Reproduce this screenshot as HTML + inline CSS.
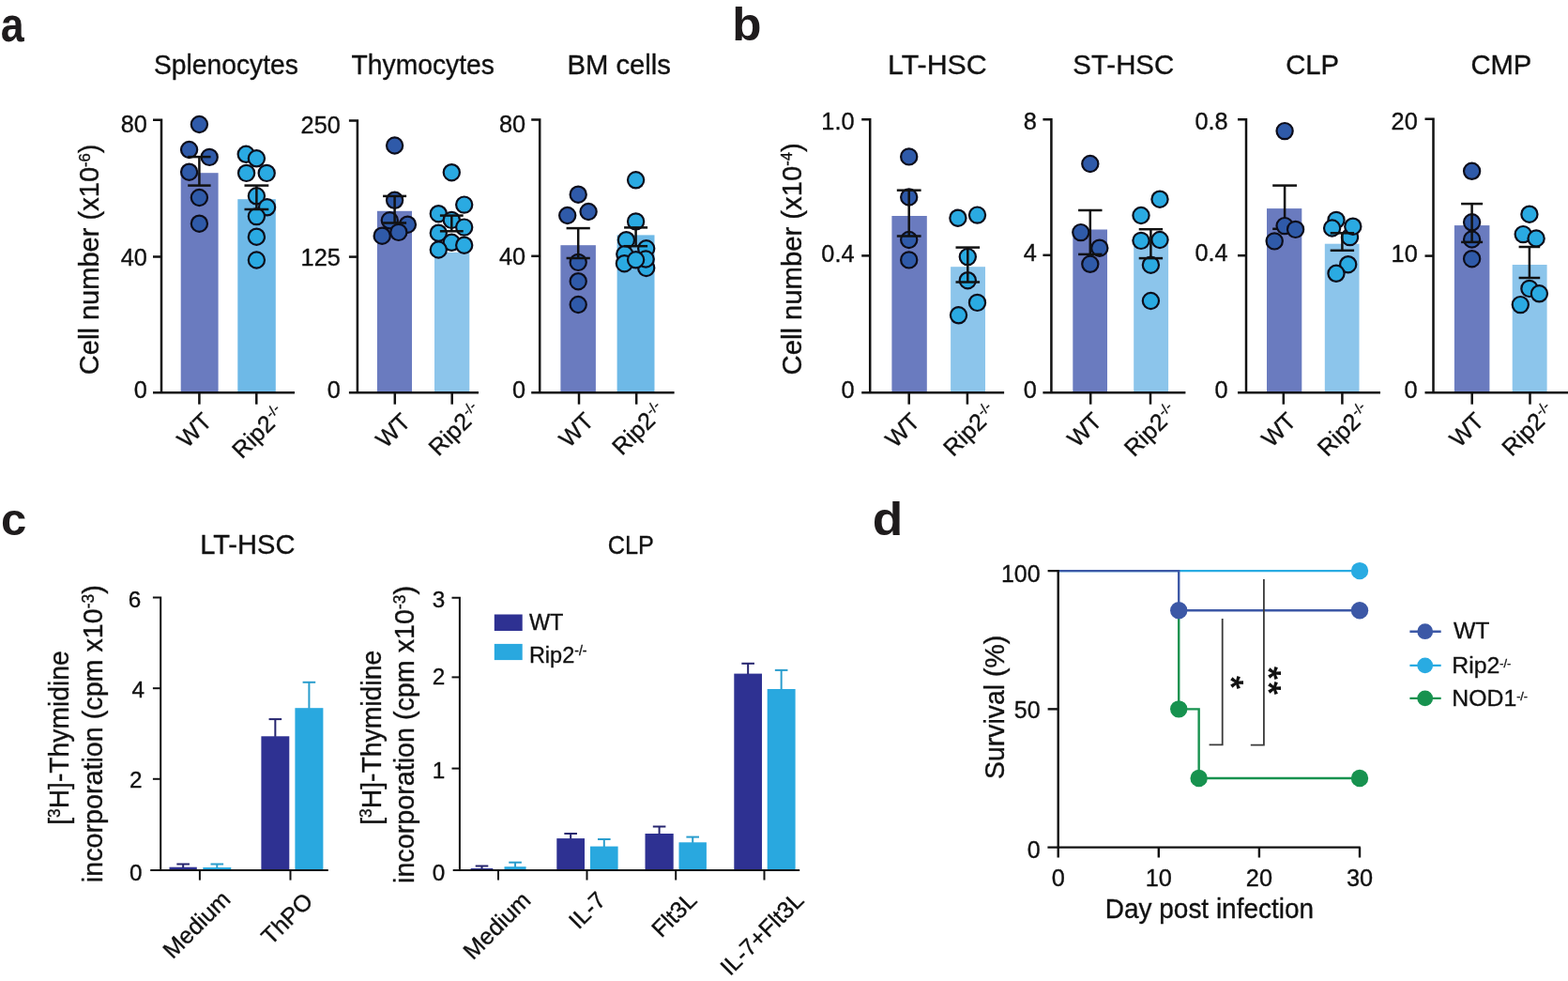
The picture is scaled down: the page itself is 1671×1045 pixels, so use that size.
<!DOCTYPE html>
<html><head><meta charset="utf-8"><title>Figure</title>
<style>html,body{margin:0;padding:0;background:#fff;}svg{display:block;}</style>
</head><body>
<svg width="1671" height="1045" viewBox="0 0 1671 1045" font-family='"Liberation Sans", Arial, Helvetica, sans-serif' fill="#111">
<rect width="1671" height="1045" fill="#fff"/>
<text font-size="49" text-anchor="start" font-weight="bold" transform="translate(0.63 43.6) scale(0.9150 1.0460)" fill="#1e1b1c">a</text>
<text font-size="49" text-anchor="start" font-weight="bold" transform="translate(780.3 43.4) scale(1.0440 1.0140)" fill="#1e1b1c">b</text>
<text font-size="49" text-anchor="start" font-weight="bold" transform="translate(1 570.4)" fill="#1e1b1c">c</text>
<text font-size="49" text-anchor="start" font-weight="bold" transform="translate(929.7 569.8) scale(1.0880 1.0310)" fill="#1e1b1c">d</text>
<text font-size="29" text-anchor="start" stroke="#111" stroke-width="0.35" transform="translate(164.03 78.6) scale(0.9744 1.0000)">Splenocytes</text>
<text font-size="29" text-anchor="start" stroke="#111" stroke-width="0.35" transform="translate(374.59 78.7) scale(0.9744 1.0000)">Thymocytes</text>
<text font-size="29" text-anchor="start" stroke="#111" stroke-width="0.35" transform="translate(604.38 78.6) scale(1.0094 1.0000)">BM cells</text>
<text font-size="28.9" text-anchor="start" stroke="#111" stroke-width="0.35" transform="translate(105.4 399.21) rotate(-90) scale(1.0062 1.0000)">Cell number (x10<tspan font-size="16.5" dy="-9.9">-6</tspan><tspan dy="9.9">)</tspan></text>
<rect x="192.7" y="184.2" width="39.9" height="234" fill="#6a7bbf"/>
<rect x="253.3" y="212.2" width="40.5" height="206" fill="#6eb9e7"/>
<circle cx="212.4" cy="132.5" r="8.6" fill="#2f5aa9" stroke="#0d0d1a" stroke-width="2.2"/>
<circle cx="201.6" cy="159.5" r="8.6" fill="#2f5aa9" stroke="#0d0d1a" stroke-width="2.2"/>
<circle cx="223.2" cy="167.4" r="8.6" fill="#2f5aa9" stroke="#0d0d1a" stroke-width="2.2"/>
<circle cx="201.6" cy="183.2" r="8.6" fill="#2f5aa9" stroke="#0d0d1a" stroke-width="2.2"/>
<circle cx="212.4" cy="210.5" r="8.6" fill="#2f5aa9" stroke="#0d0d1a" stroke-width="2.2"/>
<circle cx="212.4" cy="238.2" r="8.6" fill="#2f5aa9" stroke="#0d0d1a" stroke-width="2.2"/>
<circle cx="262.2" cy="164.3" r="8.6" fill="#2aaae2" stroke="#0d0d1a" stroke-width="2.2"/>
<circle cx="273.4" cy="168.8" r="8.6" fill="#2aaae2" stroke="#0d0d1a" stroke-width="2.2"/>
<circle cx="262.6" cy="184.4" r="8.6" fill="#2aaae2" stroke="#0d0d1a" stroke-width="2.2"/>
<circle cx="284.2" cy="184.4" r="8.6" fill="#2aaae2" stroke="#0d0d1a" stroke-width="2.2"/>
<circle cx="273.4" cy="208.8" r="8.6" fill="#2aaae2" stroke="#0d0d1a" stroke-width="2.2"/>
<circle cx="284.6" cy="220.8" r="8.6" fill="#2aaae2" stroke="#0d0d1a" stroke-width="2.2"/>
<circle cx="273.4" cy="230.6" r="8.6" fill="#2aaae2" stroke="#0d0d1a" stroke-width="2.2"/>
<circle cx="273.4" cy="252.2" r="8.6" fill="#2aaae2" stroke="#0d0d1a" stroke-width="2.2"/>
<circle cx="273.4" cy="277" r="8.6" fill="#2aaae2" stroke="#0d0d1a" stroke-width="2.2"/>
<line x1="212.4" y1="167.1" x2="212.4" y2="197.6" stroke="#111" stroke-width="2.5" stroke-linecap="butt"/>
<line x1="200.2" y1="167.1" x2="224.6" y2="167.1" stroke="#111" stroke-width="2.5" stroke-linecap="butt"/>
<line x1="200.2" y1="197.6" x2="224.6" y2="197.6" stroke="#111" stroke-width="2.5" stroke-linecap="butt"/>
<line x1="273.4" y1="197.6" x2="273.4" y2="223" stroke="#111" stroke-width="2.5" stroke-linecap="butt"/>
<line x1="260.5" y1="197.6" x2="286.3" y2="197.6" stroke="#111" stroke-width="2.5" stroke-linecap="butt"/>
<line x1="260.5" y1="223" x2="286.3" y2="223" stroke="#111" stroke-width="2.5" stroke-linecap="butt"/>
<path d="M163 127.8 H172 V418.2" fill="none" stroke="#111" stroke-width="2.5" stroke-linejoin="miter"/>
<line x1="163" y1="273.5" x2="172" y2="273.5" stroke="#111" stroke-width="2.5" stroke-linecap="butt"/>
<line x1="163" y1="418.2" x2="314" y2="418.2" stroke="#111" stroke-width="2.5" stroke-linecap="butt"/>
<line x1="212.4" y1="418.2" x2="212.4" y2="430.7" stroke="#111" stroke-width="2.5" stroke-linecap="butt"/>
<line x1="273.3" y1="418.2" x2="273.3" y2="430.7" stroke="#111" stroke-width="2.5" stroke-linecap="butt"/>
<text font-size="25.3" text-anchor="end" stroke="#111" stroke-width="0.35" transform="translate(156.8 141.46)">80</text>
<text font-size="25.3" text-anchor="end" stroke="#111" stroke-width="0.35" transform="translate(156.8 283.16)">40</text>
<text font-size="25.3" text-anchor="end" stroke="#111" stroke-width="0.35" transform="translate(156.8 424.36)">0</text>
<text font-size="25.3" text-anchor="end" stroke="#111" stroke-width="0.35" transform="translate(227.1 450.4) rotate(-45)">WT</text>
<text font-size="25.3" text-anchor="end" stroke="#111" stroke-width="0.35" transform="translate(305.1 442.3) rotate(-45)">Rip2<tspan dx="0.8" font-size="15" dy="-8.5">-/-</tspan></text>
<rect x="401.9" y="224.8" width="37.1" height="193.4" fill="#6a7bbf"/>
<rect x="463" y="268.9" width="37.3" height="149.3" fill="#8cc5eb"/>
<circle cx="420.6" cy="155" r="8.6" fill="#2f5aa9" stroke="#0d0d1a" stroke-width="2.2"/>
<circle cx="420.6" cy="213.3" r="8.6" fill="#2f5aa9" stroke="#0d0d1a" stroke-width="2.2"/>
<circle cx="415.3" cy="234.8" r="8.6" fill="#2f5aa9" stroke="#0d0d1a" stroke-width="2.2"/>
<circle cx="434.4" cy="239.2" r="8.6" fill="#2f5aa9" stroke="#0d0d1a" stroke-width="2.2"/>
<circle cx="407.2" cy="251.2" r="8.6" fill="#2f5aa9" stroke="#0d0d1a" stroke-width="2.2"/>
<circle cx="424.8" cy="247.4" r="8.6" fill="#2f5aa9" stroke="#0d0d1a" stroke-width="2.2"/>
<circle cx="481.3" cy="183.7" r="8.6" fill="#2aaae2" stroke="#0d0d1a" stroke-width="2.2"/>
<circle cx="494.7" cy="218.1" r="8.6" fill="#2aaae2" stroke="#0d0d1a" stroke-width="2.2"/>
<circle cx="467.3" cy="227.7" r="8.6" fill="#2aaae2" stroke="#0d0d1a" stroke-width="2.2"/>
<circle cx="481.3" cy="234.4" r="8.6" fill="#2aaae2" stroke="#0d0d1a" stroke-width="2.2"/>
<circle cx="494.7" cy="242.1" r="8.6" fill="#2aaae2" stroke="#0d0d1a" stroke-width="2.2"/>
<circle cx="467.3" cy="248.2" r="8.6" fill="#2aaae2" stroke="#0d0d1a" stroke-width="2.2"/>
<circle cx="481.3" cy="258.3" r="8.6" fill="#2aaae2" stroke="#0d0d1a" stroke-width="2.2"/>
<circle cx="494.7" cy="261.2" r="8.6" fill="#2aaae2" stroke="#0d0d1a" stroke-width="2.2"/>
<circle cx="467.3" cy="266" r="8.6" fill="#2aaae2" stroke="#0d0d1a" stroke-width="2.2"/>
<line x1="420.6" y1="208.9" x2="420.6" y2="237.5" stroke="#111" stroke-width="2.5" stroke-linecap="butt"/>
<line x1="408.1" y1="208.9" x2="433.1" y2="208.9" stroke="#111" stroke-width="2.5" stroke-linecap="butt"/>
<line x1="408.1" y1="237.5" x2="433.1" y2="237.5" stroke="#111" stroke-width="2.5" stroke-linecap="butt"/>
<line x1="481.3" y1="229.6" x2="481.3" y2="246.3" stroke="#111" stroke-width="2.5" stroke-linecap="butt"/>
<line x1="468.9" y1="229.6" x2="493.7" y2="229.6" stroke="#111" stroke-width="2.5" stroke-linecap="butt"/>
<line x1="468.9" y1="246.3" x2="493.7" y2="246.3" stroke="#111" stroke-width="2.5" stroke-linecap="butt"/>
<path d="M371.9 128.6 H380.9 V418.2" fill="none" stroke="#111" stroke-width="2.5" stroke-linejoin="miter"/>
<line x1="371.9" y1="273.6" x2="380.9" y2="273.6" stroke="#111" stroke-width="2.5" stroke-linecap="butt"/>
<line x1="371.9" y1="418.2" x2="510" y2="418.2" stroke="#111" stroke-width="2.5" stroke-linecap="butt"/>
<line x1="420.8" y1="418.2" x2="420.8" y2="430.7" stroke="#111" stroke-width="2.5" stroke-linecap="butt"/>
<line x1="481.7" y1="418.2" x2="481.7" y2="430.7" stroke="#111" stroke-width="2.5" stroke-linecap="butt"/>
<text font-size="25.3" text-anchor="end" stroke="#111" stroke-width="0.35" transform="translate(362.8 142.26)">250</text>
<text font-size="25.3" text-anchor="end" stroke="#111" stroke-width="0.35" transform="translate(362.8 283.26)">125</text>
<text font-size="25.3" text-anchor="end" stroke="#111" stroke-width="0.35" transform="translate(362.8 424.36)">0</text>
<text font-size="25.3" text-anchor="end" stroke="#111" stroke-width="0.35" transform="translate(438.9 450.8) rotate(-45)">WT</text>
<text font-size="25.3" text-anchor="end" stroke="#111" stroke-width="0.35" transform="translate(514.6 439.7) rotate(-45)">Rip2<tspan dx="0.8" font-size="15" dy="-8.5">-/-</tspan></text>
<rect x="597.4" y="261.2" width="37.5" height="157" fill="#6a7bbf"/>
<rect x="657.6" y="250.4" width="39.9" height="167.8" fill="#6eb9e7"/>
<circle cx="616.2" cy="207.2" r="8.6" fill="#2f5aa9" stroke="#0d0d1a" stroke-width="2.2"/>
<circle cx="604.7" cy="229.5" r="8.6" fill="#2f5aa9" stroke="#0d0d1a" stroke-width="2.2"/>
<circle cx="627.1" cy="225.5" r="8.6" fill="#2f5aa9" stroke="#0d0d1a" stroke-width="2.2"/>
<circle cx="616.2" cy="279.4" r="8.6" fill="#2f5aa9" stroke="#0d0d1a" stroke-width="2.2"/>
<circle cx="616.2" cy="299.7" r="8.6" fill="#2f5aa9" stroke="#0d0d1a" stroke-width="2.2"/>
<circle cx="616.2" cy="324.5" r="8.6" fill="#2f5aa9" stroke="#0d0d1a" stroke-width="2.2"/>
<circle cx="677.6" cy="191.8" r="8.6" fill="#2aaae2" stroke="#0d0d1a" stroke-width="2.2"/>
<circle cx="677.6" cy="235.9" r="8.6" fill="#2aaae2" stroke="#0d0d1a" stroke-width="2.2"/>
<circle cx="667.4" cy="255.7" r="8.6" fill="#2aaae2" stroke="#0d0d1a" stroke-width="2.2"/>
<circle cx="688.7" cy="264.8" r="8.6" fill="#2aaae2" stroke="#0d0d1a" stroke-width="2.2"/>
<circle cx="665.8" cy="270.8" r="8.6" fill="#2aaae2" stroke="#0d0d1a" stroke-width="2.2"/>
<circle cx="688.7" cy="285.5" r="8.6" fill="#2aaae2" stroke="#0d0d1a" stroke-width="2.2"/>
<circle cx="665.4" cy="280.7" r="8.6" fill="#2aaae2" stroke="#0d0d1a" stroke-width="2.2"/>
<circle cx="688.2" cy="276" r="8.6" fill="#2aaae2" stroke="#0d0d1a" stroke-width="2.2"/>
<circle cx="677.6" cy="276.8" r="8.6" fill="#2aaae2" stroke="#0d0d1a" stroke-width="2.2"/>
<line x1="616.2" y1="243.1" x2="616.2" y2="275" stroke="#111" stroke-width="2.5" stroke-linecap="butt"/>
<line x1="603.6" y1="243.1" x2="628.8" y2="243.1" stroke="#111" stroke-width="2.5" stroke-linecap="butt"/>
<line x1="603.6" y1="275" x2="628.8" y2="275" stroke="#111" stroke-width="2.5" stroke-linecap="butt"/>
<line x1="677.6" y1="242.4" x2="677.6" y2="262.2" stroke="#111" stroke-width="2.5" stroke-linecap="butt"/>
<line x1="665.1" y1="242.4" x2="690.1" y2="242.4" stroke="#111" stroke-width="2.5" stroke-linecap="butt"/>
<line x1="665.1" y1="262.2" x2="690.1" y2="262.2" stroke="#111" stroke-width="2.5" stroke-linecap="butt"/>
<path d="M566.2 127.6 H575.2 V418.2" fill="none" stroke="#111" stroke-width="2.5" stroke-linejoin="miter"/>
<line x1="566.2" y1="272.8" x2="575.2" y2="272.8" stroke="#111" stroke-width="2.5" stroke-linecap="butt"/>
<line x1="566.2" y1="418.2" x2="718.6" y2="418.2" stroke="#111" stroke-width="2.5" stroke-linecap="butt"/>
<line x1="617" y1="418.2" x2="617" y2="430.7" stroke="#111" stroke-width="2.5" stroke-linecap="butt"/>
<line x1="678.2" y1="418.2" x2="678.2" y2="430.7" stroke="#111" stroke-width="2.5" stroke-linecap="butt"/>
<text font-size="25.3" text-anchor="end" stroke="#111" stroke-width="0.35" transform="translate(560.1 141.26)">80</text>
<text font-size="25.3" text-anchor="end" stroke="#111" stroke-width="0.35" transform="translate(560.1 282.46)">40</text>
<text font-size="25.3" text-anchor="end" stroke="#111" stroke-width="0.35" transform="translate(560.1 424.36)">0</text>
<text font-size="25.3" text-anchor="end" stroke="#111" stroke-width="0.35" transform="translate(634.1 450.1) rotate(-45)">WT</text>
<text font-size="25.3" text-anchor="end" stroke="#111" stroke-width="0.35" transform="translate(710.2 438.9) rotate(-45)">Rip2<tspan dx="0.8" font-size="15" dy="-8.5">-/-</tspan></text>
<text font-size="29" text-anchor="start" stroke="#111" stroke-width="0.35" transform="translate(946.09 79) scale(1.0465 1.0000)">LT-HSC</text>
<text font-size="29" text-anchor="start" stroke="#111" stroke-width="0.35" transform="translate(1143.37 78.5) scale(1.0146 1.0000)">ST-HSC</text>
<text font-size="29" text-anchor="start" stroke="#111" stroke-width="0.35" transform="translate(1370.17 78.5) scale(1.0099 1.0000)">CLP</text>
<text font-size="29" text-anchor="start" stroke="#111" stroke-width="0.35" transform="translate(1567.39 78.5) scale(1.0082 1.0000)">CMP</text>
<text font-size="28.9" text-anchor="start" stroke="#111" stroke-width="0.35" transform="translate(853.5 399.42) rotate(-90) scale(1.0124 1.0000)">Cell number (x10<tspan font-size="16.5" dy="-9.9">-4</tspan><tspan dy="9.9">)</tspan></text>
<rect x="950.4" y="230" width="37.4" height="188.2" fill="#6a7bbf"/>
<rect x="1013.1" y="284.2" width="36.9" height="134" fill="#8cc5eb"/>
<circle cx="968.7" cy="166.9" r="8.6" fill="#2f5aa9" stroke="#0d0d1a" stroke-width="2.2"/>
<circle cx="968.7" cy="210" r="8.6" fill="#2f5aa9" stroke="#0d0d1a" stroke-width="2.2"/>
<circle cx="968.7" cy="255.5" r="8.6" fill="#2f5aa9" stroke="#0d0d1a" stroke-width="2.2"/>
<circle cx="968.7" cy="276.9" r="8.6" fill="#2f5aa9" stroke="#0d0d1a" stroke-width="2.2"/>
<circle cx="1020.9" cy="232.2" r="8.6" fill="#2aaae2" stroke="#0d0d1a" stroke-width="2.2"/>
<circle cx="1041.5" cy="229.1" r="8.6" fill="#2aaae2" stroke="#0d0d1a" stroke-width="2.2"/>
<circle cx="1031.3" cy="273.6" r="8.6" fill="#2aaae2" stroke="#0d0d1a" stroke-width="2.2"/>
<circle cx="1031.3" cy="298.7" r="8.6" fill="#2aaae2" stroke="#0d0d1a" stroke-width="2.2"/>
<circle cx="1041.5" cy="322.4" r="8.6" fill="#2aaae2" stroke="#0d0d1a" stroke-width="2.2"/>
<circle cx="1021.5" cy="335.8" r="8.6" fill="#2aaae2" stroke="#0d0d1a" stroke-width="2.2"/>
<line x1="968.7" y1="202.7" x2="968.7" y2="251.5" stroke="#111" stroke-width="2.5" stroke-linecap="butt"/>
<line x1="955.8" y1="202.7" x2="981.6" y2="202.7" stroke="#111" stroke-width="2.5" stroke-linecap="butt"/>
<line x1="955.8" y1="251.5" x2="981.6" y2="251.5" stroke="#111" stroke-width="2.5" stroke-linecap="butt"/>
<line x1="1031.3" y1="263.6" x2="1031.3" y2="300.5" stroke="#111" stroke-width="2.5" stroke-linecap="butt"/>
<line x1="1018.5" y1="263.6" x2="1044.1" y2="263.6" stroke="#111" stroke-width="2.5" stroke-linecap="butt"/>
<line x1="1018.5" y1="300.5" x2="1044.1" y2="300.5" stroke="#111" stroke-width="2.5" stroke-linecap="butt"/>
<path d="M918.2 127.3 H927.2 V418.2" fill="none" stroke="#111" stroke-width="2.5" stroke-linejoin="miter"/>
<line x1="918.2" y1="272.4" x2="927.2" y2="272.4" stroke="#111" stroke-width="2.5" stroke-linecap="butt"/>
<line x1="918.2" y1="418.2" x2="1070.1" y2="418.2" stroke="#111" stroke-width="2.5" stroke-linecap="butt"/>
<line x1="968.7" y1="418.2" x2="968.7" y2="430.7" stroke="#111" stroke-width="2.5" stroke-linecap="butt"/>
<line x1="1030.9" y1="418.2" x2="1030.9" y2="430.7" stroke="#111" stroke-width="2.5" stroke-linecap="butt"/>
<text font-size="25.3" text-anchor="end" stroke="#111" stroke-width="0.35" transform="translate(910.5 138.26)">1.0</text>
<text font-size="25.3" text-anchor="end" stroke="#111" stroke-width="0.35" transform="translate(910.5 278.66)">0.4</text>
<text font-size="25.3" text-anchor="end" stroke="#111" stroke-width="0.35" transform="translate(910.5 423.96)">0</text>
<text font-size="25.3" text-anchor="end" stroke="#111" stroke-width="0.35" transform="translate(981.8 450.5) rotate(-45)">WT</text>
<text font-size="25.3" text-anchor="end" stroke="#111" stroke-width="0.35" transform="translate(1063.2 440.1) rotate(-45)">Rip2<tspan dx="0.8" font-size="15" dy="-8.5">-/-</tspan></text>
<rect x="1143.3" y="244.5" width="36.7" height="173.7" fill="#6a7bbf"/>
<rect x="1208.2" y="259.6" width="36.9" height="158.6" fill="#8cc5eb"/>
<circle cx="1161.8" cy="174.5" r="8.6" fill="#2f5aa9" stroke="#0d0d1a" stroke-width="2.2"/>
<circle cx="1151.8" cy="247.6" r="8.6" fill="#2f5aa9" stroke="#0d0d1a" stroke-width="2.2"/>
<circle cx="1171.8" cy="264.2" r="8.6" fill="#2f5aa9" stroke="#0d0d1a" stroke-width="2.2"/>
<circle cx="1161.8" cy="281.3" r="8.6" fill="#2f5aa9" stroke="#0d0d1a" stroke-width="2.2"/>
<circle cx="1236" cy="212.2" r="8.6" fill="#2aaae2" stroke="#0d0d1a" stroke-width="2.2"/>
<circle cx="1216" cy="229.5" r="8.6" fill="#2aaae2" stroke="#0d0d1a" stroke-width="2.2"/>
<circle cx="1216" cy="256.4" r="8.6" fill="#2aaae2" stroke="#0d0d1a" stroke-width="2.2"/>
<circle cx="1236" cy="255.5" r="8.6" fill="#2aaae2" stroke="#0d0d1a" stroke-width="2.2"/>
<circle cx="1226.4" cy="282.2" r="8.6" fill="#2aaae2" stroke="#0d0d1a" stroke-width="2.2"/>
<circle cx="1226.4" cy="320.5" r="8.6" fill="#2aaae2" stroke="#0d0d1a" stroke-width="2.2"/>
<line x1="1161.8" y1="224" x2="1161.8" y2="270.9" stroke="#111" stroke-width="2.5" stroke-linecap="butt"/>
<line x1="1149.1" y1="224" x2="1174.5" y2="224" stroke="#111" stroke-width="2.5" stroke-linecap="butt"/>
<line x1="1149.1" y1="270.9" x2="1174.5" y2="270.9" stroke="#111" stroke-width="2.5" stroke-linecap="butt"/>
<line x1="1226.4" y1="244.2" x2="1226.4" y2="275.1" stroke="#111" stroke-width="2.5" stroke-linecap="butt"/>
<line x1="1213.7" y1="244.2" x2="1239.1" y2="244.2" stroke="#111" stroke-width="2.5" stroke-linecap="butt"/>
<line x1="1213.7" y1="275.1" x2="1239.1" y2="275.1" stroke="#111" stroke-width="2.5" stroke-linecap="butt"/>
<path d="M1111.4 127.3 H1120.4 V418.2" fill="none" stroke="#111" stroke-width="2.5" stroke-linejoin="miter"/>
<line x1="1111.4" y1="271.8" x2="1120.4" y2="271.8" stroke="#111" stroke-width="2.5" stroke-linecap="butt"/>
<line x1="1111.4" y1="418.2" x2="1263.4" y2="418.2" stroke="#111" stroke-width="2.5" stroke-linecap="butt"/>
<line x1="1162.2" y1="418.2" x2="1162.2" y2="430.7" stroke="#111" stroke-width="2.5" stroke-linecap="butt"/>
<line x1="1226" y1="418.2" x2="1226" y2="430.7" stroke="#111" stroke-width="2.5" stroke-linecap="butt"/>
<text font-size="25.3" text-anchor="end" stroke="#111" stroke-width="0.35" transform="translate(1104.9 138.26)">8</text>
<text font-size="25.3" text-anchor="end" stroke="#111" stroke-width="0.35" transform="translate(1104.9 278.06)">4</text>
<text font-size="25.3" text-anchor="end" stroke="#111" stroke-width="0.35" transform="translate(1104.9 423.96)">0</text>
<text font-size="25.3" text-anchor="end" stroke="#111" stroke-width="0.35" transform="translate(1175.7 450) rotate(-45)">WT</text>
<text font-size="25.3" text-anchor="end" stroke="#111" stroke-width="0.35" transform="translate(1256 440.3) rotate(-45)">Rip2<tspan dx="0.8" font-size="15" dy="-8.5">-/-</tspan></text>
<rect x="1350" y="222.1" width="37.3" height="196.1" fill="#6a7bbf"/>
<rect x="1411.8" y="259.7" width="36.7" height="158.5" fill="#8cc5eb"/>
<line x1="1369.1" y1="197.6" x2="1369.1" y2="243.8" stroke="#111" stroke-width="2.5" stroke-linecap="butt"/>
<line x1="1356.2" y1="197.6" x2="1382" y2="197.6" stroke="#111" stroke-width="2.5" stroke-linecap="butt"/>
<line x1="1356.2" y1="243.8" x2="1382" y2="243.8" stroke="#111" stroke-width="2.5" stroke-linecap="butt"/>
<circle cx="1369.1" cy="139.6" r="8.6" fill="#2f5aa9" stroke="#0d0d1a" stroke-width="2.2"/>
<circle cx="1369.1" cy="240.6" r="8.6" fill="#2f5aa9" stroke="#0d0d1a" stroke-width="2.2"/>
<circle cx="1380.6" cy="244.4" r="8.6" fill="#2f5aa9" stroke="#0d0d1a" stroke-width="2.2"/>
<circle cx="1358.2" cy="256.9" r="8.6" fill="#2f5aa9" stroke="#0d0d1a" stroke-width="2.2"/>
<circle cx="1438.5" cy="252.6" r="8.6" fill="#2aaae2" stroke="#0d0d1a" stroke-width="2.2"/>
<circle cx="1424" cy="234.4" r="8.6" fill="#2aaae2" stroke="#0d0d1a" stroke-width="2.2"/>
<circle cx="1419.6" cy="243" r="8.6" fill="#2aaae2" stroke="#0d0d1a" stroke-width="2.2"/>
<circle cx="1441.8" cy="241.2" r="8.6" fill="#2aaae2" stroke="#0d0d1a" stroke-width="2.2"/>
<circle cx="1436.7" cy="281.7" r="8.6" fill="#2aaae2" stroke="#0d0d1a" stroke-width="2.2"/>
<circle cx="1424" cy="291.3" r="8.6" fill="#2aaae2" stroke="#0d0d1a" stroke-width="2.2"/>
<line x1="1430.4" y1="248.3" x2="1430.4" y2="266.8" stroke="#111" stroke-width="2.5" stroke-linecap="butt"/>
<line x1="1417.7" y1="248.3" x2="1443.1" y2="248.3" stroke="#111" stroke-width="2.5" stroke-linecap="butt"/>
<line x1="1417.7" y1="266.8" x2="1443.1" y2="266.8" stroke="#111" stroke-width="2.5" stroke-linecap="butt"/>
<path d="M1319 127.2 H1328 V418.2" fill="none" stroke="#111" stroke-width="2.5" stroke-linejoin="miter"/>
<line x1="1319" y1="272.2" x2="1328" y2="272.2" stroke="#111" stroke-width="2.5" stroke-linecap="butt"/>
<line x1="1319" y1="418.2" x2="1471" y2="418.2" stroke="#111" stroke-width="2.5" stroke-linecap="butt"/>
<line x1="1367.8" y1="418.2" x2="1367.8" y2="430.7" stroke="#111" stroke-width="2.5" stroke-linecap="butt"/>
<line x1="1430.4" y1="418.2" x2="1430.4" y2="430.7" stroke="#111" stroke-width="2.5" stroke-linecap="butt"/>
<text font-size="25.3" text-anchor="end" stroke="#111" stroke-width="0.35" transform="translate(1308.6 138.16)">0.8</text>
<text font-size="25.3" text-anchor="end" stroke="#111" stroke-width="0.35" transform="translate(1308.6 278.46)">0.4</text>
<text font-size="25.3" text-anchor="end" stroke="#111" stroke-width="0.35" transform="translate(1308.6 423.96)">0</text>
<text font-size="25.3" text-anchor="end" stroke="#111" stroke-width="0.35" transform="translate(1382.8 450) rotate(-45)">WT</text>
<text font-size="25.3" text-anchor="end" stroke="#111" stroke-width="0.35" transform="translate(1461.9 440.1) rotate(-45)">Rip2<tspan dx="0.8" font-size="15" dy="-8.5">-/-</tspan></text>
<rect x="1549.9" y="240.1" width="37.5" height="178.1" fill="#6a7bbf"/>
<rect x="1611.7" y="282" width="36.9" height="136.2" fill="#8cc5eb"/>
<circle cx="1568.6" cy="182.3" r="8.6" fill="#2f5aa9" stroke="#0d0d1a" stroke-width="2.2"/>
<circle cx="1568.6" cy="236.8" r="8.6" fill="#2f5aa9" stroke="#0d0d1a" stroke-width="2.2"/>
<circle cx="1568.6" cy="255" r="8.6" fill="#2f5aa9" stroke="#0d0d1a" stroke-width="2.2"/>
<circle cx="1568.6" cy="275.7" r="8.6" fill="#2f5aa9" stroke="#0d0d1a" stroke-width="2.2"/>
<circle cx="1629.9" cy="228.2" r="8.6" fill="#2aaae2" stroke="#0d0d1a" stroke-width="2.2"/>
<circle cx="1623.2" cy="249.6" r="8.6" fill="#2aaae2" stroke="#0d0d1a" stroke-width="2.2"/>
<circle cx="1637.1" cy="254" r="8.6" fill="#2aaae2" stroke="#0d0d1a" stroke-width="2.2"/>
<circle cx="1629.9" cy="307.4" r="8.6" fill="#2aaae2" stroke="#0d0d1a" stroke-width="2.2"/>
<circle cx="1640.4" cy="312.8" r="8.6" fill="#2aaae2" stroke="#0d0d1a" stroke-width="2.2"/>
<circle cx="1620.3" cy="324.6" r="8.6" fill="#2aaae2" stroke="#0d0d1a" stroke-width="2.2"/>
<line x1="1568.6" y1="217.1" x2="1568.6" y2="257.9" stroke="#111" stroke-width="2.5" stroke-linecap="butt"/>
<line x1="1557.1" y1="217.1" x2="1580.1" y2="217.1" stroke="#111" stroke-width="2.5" stroke-linecap="butt"/>
<line x1="1557.1" y1="257.9" x2="1580.1" y2="257.9" stroke="#111" stroke-width="2.5" stroke-linecap="butt"/>
<line x1="1629.9" y1="263" x2="1629.9" y2="296" stroke="#111" stroke-width="2.5" stroke-linecap="butt"/>
<line x1="1618.6" y1="263" x2="1641.2" y2="263" stroke="#111" stroke-width="2.5" stroke-linecap="butt"/>
<line x1="1618.6" y1="296" x2="1641.2" y2="296" stroke="#111" stroke-width="2.5" stroke-linecap="butt"/>
<path d="M1518.5 126.8 H1527.5 V418.2" fill="none" stroke="#111" stroke-width="2.5" stroke-linejoin="miter"/>
<line x1="1518.5" y1="272.6" x2="1527.5" y2="272.6" stroke="#111" stroke-width="2.5" stroke-linecap="butt"/>
<line x1="1518.5" y1="418.2" x2="1672" y2="418.2" stroke="#111" stroke-width="2.5" stroke-linecap="butt"/>
<line x1="1568.7" y1="418.2" x2="1568.7" y2="430.7" stroke="#111" stroke-width="2.5" stroke-linecap="butt"/>
<line x1="1630.5" y1="418.2" x2="1630.5" y2="430.7" stroke="#111" stroke-width="2.5" stroke-linecap="butt"/>
<text font-size="25.3" text-anchor="end" stroke="#111" stroke-width="0.35" transform="translate(1510.7 137.76)">20</text>
<text font-size="25.3" text-anchor="end" stroke="#111" stroke-width="0.35" transform="translate(1510.7 278.86)">10</text>
<text font-size="25.3" text-anchor="end" stroke="#111" stroke-width="0.35" transform="translate(1510.7 423.96)">0</text>
<text font-size="25.3" text-anchor="end" stroke="#111" stroke-width="0.35" transform="translate(1583 450) rotate(-45)">WT</text>
<text font-size="25.3" text-anchor="end" stroke="#111" stroke-width="0.35" transform="translate(1658.4 439.8) rotate(-45)">Rip2<tspan dx="0.8" font-size="15" dy="-8.5">-/-</tspan></text>
<text font-size="28.8" text-anchor="start" stroke="#111" stroke-width="0.35" transform="translate(213.17 590.2) scale(1.0105 1.0000)">LT-HSC</text>
<text font-size="28.5" text-anchor="start" stroke="#111" stroke-width="0.35" transform="translate(647.75 589.6) scale(0.8870 1.0000)">CLP</text>
<text font-size="28.9" text-anchor="start" stroke="#111" stroke-width="0.35" transform="translate(73.3 878.76) rotate(-90) scale(0.9785 1.0000)">[<tspan font-size="17.5" dy="-9.2">3</tspan><tspan dy="9.2">H]-Thymidine</tspan></text>
<text font-size="28.9" text-anchor="start" stroke="#111" stroke-width="0.35" transform="translate(108.5 940.19) rotate(-90) scale(0.9937 1.0000)">incorporation (cpm x10<tspan font-size="17.5" dy="-8.8">-3</tspan><tspan dy="8.8">)</tspan></text>
<text font-size="28.9" text-anchor="start" stroke="#111" stroke-width="0.35" transform="translate(405.6 878.76) rotate(-90) scale(0.9812 1.0000)">[<tspan font-size="17.5" dy="-9.2">3</tspan><tspan dy="9.2">H]-Thymidine</tspan></text>
<text font-size="28.9" text-anchor="start" stroke="#111" stroke-width="0.35" transform="translate(441 940.99) rotate(-90) scale(0.9937 1.0000)">incorporation (cpm x10<tspan font-size="17.5" dy="-8.8">-3</tspan><tspan dy="8.8">)</tspan></text>
<rect x="180.5" y="923.7" width="29.3" height="3.4" fill="#2e3192"/>
<line x1="195.15" y1="920.5" x2="195.15" y2="924.2" stroke="#26256f" stroke-width="2.0" stroke-linecap="butt"/>
<line x1="188.35" y1="920.5" x2="201.95" y2="920.5" stroke="#26256f" stroke-width="2.0" stroke-linecap="butt"/>
<rect x="216.3" y="924" width="30" height="3.1" fill="#29a8df"/>
<line x1="231.3" y1="920.5" x2="231.3" y2="924.5" stroke="#2a9dcd" stroke-width="2.0" stroke-linecap="butt"/>
<line x1="224.5" y1="920.5" x2="238.1" y2="920.5" stroke="#2a9dcd" stroke-width="2.0" stroke-linecap="butt"/>
<rect x="278.4" y="784.3" width="29.9" height="142.8" fill="#2e3192"/>
<line x1="293.35" y1="766.1" x2="293.35" y2="784.8" stroke="#26256f" stroke-width="2.0" stroke-linecap="butt"/>
<line x1="286.55" y1="766.1" x2="300.15" y2="766.1" stroke="#26256f" stroke-width="2.0" stroke-linecap="butt"/>
<rect x="314.4" y="754.2" width="30" height="172.9" fill="#29a8df"/>
<line x1="329.4" y1="726.8" x2="329.4" y2="754.7" stroke="#2a9dcd" stroke-width="2.0" stroke-linecap="butt"/>
<line x1="322.6" y1="726.8" x2="336.2" y2="726.8" stroke="#2a9dcd" stroke-width="2.0" stroke-linecap="butt"/>
<path d="M162.9 636.5 H171.2 V927.1" fill="none" stroke="#111" stroke-width="2.0"/>
<line x1="162.9" y1="733.2" x2="171.2" y2="733.2" stroke="#111" stroke-width="2.0" stroke-linecap="butt"/>
<line x1="162.9" y1="829.8" x2="171.2" y2="829.8" stroke="#111" stroke-width="2.0" stroke-linecap="butt"/>
<line x1="160.2" y1="927.1" x2="349.8" y2="927.1" stroke="#111" stroke-width="2.0" stroke-linecap="butt"/>
<line x1="212.9" y1="927.1" x2="212.9" y2="937.6" stroke="#111" stroke-width="2.0" stroke-linecap="butt"/>
<line x1="309.5" y1="927.1" x2="309.5" y2="937.6" stroke="#111" stroke-width="2.0" stroke-linecap="butt"/>
<text font-size="24.3" text-anchor="end" stroke="#111" stroke-width="0.35" transform="translate(150.3 646.8)">6</text>
<text font-size="24.3" text-anchor="end" stroke="#111" stroke-width="0.35" transform="translate(154.1 743.3)">4</text>
<text font-size="24.3" text-anchor="end" stroke="#111" stroke-width="0.35" transform="translate(151.5 838.9)">2</text>
<text font-size="24.3" text-anchor="end" stroke="#111" stroke-width="0.35" transform="translate(151.5 938.3)">0</text>
<text font-size="25" text-anchor="end" stroke="#111" stroke-width="0.35" transform="translate(247 959.5) rotate(-45)">Medium</text>
<text font-size="25" text-anchor="end" stroke="#111" stroke-width="0.35" transform="translate(335 961.5) rotate(-45)">ThPO</text>
<rect x="501.6" y="925" width="23.8" height="2.1" fill="#2e3192"/>
<line x1="513.5" y1="922.5" x2="513.5" y2="925.5" stroke="#26256f" stroke-width="2.0" stroke-linecap="butt"/>
<line x1="506.7" y1="922.5" x2="520.3" y2="922.5" stroke="#26256f" stroke-width="2.0" stroke-linecap="butt"/>
<rect x="537.5" y="923.2" width="23.1" height="3.9" fill="#29a8df"/>
<line x1="549.05" y1="918.7" x2="549.05" y2="923.7" stroke="#2a9dcd" stroke-width="2.0" stroke-linecap="butt"/>
<line x1="542.25" y1="918.7" x2="555.85" y2="918.7" stroke="#2a9dcd" stroke-width="2.0" stroke-linecap="butt"/>
<rect x="593.3" y="893.1" width="29.7" height="34" fill="#2e3192"/>
<line x1="608.15" y1="888" x2="608.15" y2="893.6" stroke="#26256f" stroke-width="2.0" stroke-linecap="butt"/>
<line x1="601.35" y1="888" x2="614.95" y2="888" stroke="#26256f" stroke-width="2.0" stroke-linecap="butt"/>
<rect x="629" y="901.6" width="29.6" height="25.5" fill="#29a8df"/>
<line x1="643.8" y1="894" x2="643.8" y2="902.1" stroke="#2a9dcd" stroke-width="2.0" stroke-linecap="butt"/>
<line x1="637" y1="894" x2="650.6" y2="894" stroke="#2a9dcd" stroke-width="2.0" stroke-linecap="butt"/>
<rect x="687.5" y="888" width="30.2" height="39.1" fill="#2e3192"/>
<line x1="702.6" y1="880.5" x2="702.6" y2="888.5" stroke="#26256f" stroke-width="2.0" stroke-linecap="butt"/>
<line x1="695.8" y1="880.5" x2="709.4" y2="880.5" stroke="#26256f" stroke-width="2.0" stroke-linecap="butt"/>
<rect x="723.5" y="897.3" width="29.4" height="29.8" fill="#29a8df"/>
<line x1="738.2" y1="891.6" x2="738.2" y2="897.8" stroke="#2a9dcd" stroke-width="2.0" stroke-linecap="butt"/>
<line x1="731.4" y1="891.6" x2="745" y2="891.6" stroke="#2a9dcd" stroke-width="2.0" stroke-linecap="butt"/>
<rect x="782.3" y="717.6" width="29.7" height="209.5" fill="#2e3192"/>
<line x1="797.15" y1="706.8" x2="797.15" y2="718.1" stroke="#26256f" stroke-width="2.0" stroke-linecap="butt"/>
<line x1="790.35" y1="706.8" x2="803.95" y2="706.8" stroke="#26256f" stroke-width="2.0" stroke-linecap="butt"/>
<rect x="817.7" y="734" width="29.9" height="193.1" fill="#29a8df"/>
<line x1="832.65" y1="713.9" x2="832.65" y2="734.5" stroke="#2a9dcd" stroke-width="2.0" stroke-linecap="butt"/>
<line x1="825.85" y1="713.9" x2="839.45" y2="713.9" stroke="#2a9dcd" stroke-width="2.0" stroke-linecap="butt"/>
<path d="M481.5 636.8 H489.9 V927.1" fill="none" stroke="#111" stroke-width="2.0"/>
<line x1="481.5" y1="721.4" x2="489.9" y2="721.4" stroke="#111" stroke-width="2.0" stroke-linecap="butt"/>
<line x1="481.5" y1="818.6" x2="489.9" y2="818.6" stroke="#111" stroke-width="2.0" stroke-linecap="butt"/>
<line x1="482.7" y1="927.1" x2="852.2" y2="927.1" stroke="#111" stroke-width="2.0" stroke-linecap="butt"/>
<line x1="531" y1="927.1" x2="531" y2="937.5" stroke="#111" stroke-width="2.0" stroke-linecap="butt"/>
<line x1="625.5" y1="927.1" x2="625.5" y2="937.5" stroke="#111" stroke-width="2.0" stroke-linecap="butt"/>
<line x1="720.2" y1="927.1" x2="720.2" y2="937.5" stroke="#111" stroke-width="2.0" stroke-linecap="butt"/>
<line x1="814.5" y1="927.1" x2="814.5" y2="937.5" stroke="#111" stroke-width="2.0" stroke-linecap="butt"/>
<text font-size="24.3" text-anchor="end" stroke="#111" stroke-width="0.35" transform="translate(474.3 647.2)">3</text>
<text font-size="24.3" text-anchor="end" stroke="#111" stroke-width="0.35" transform="translate(474.3 728.5)">2</text>
<text font-size="24.3" text-anchor="end" stroke="#111" stroke-width="0.35" transform="translate(474.3 829.1)">1</text>
<text font-size="24.3" text-anchor="end" stroke="#111" stroke-width="0.35" transform="translate(474.3 937.7)">0</text>
<text font-size="25" text-anchor="end" stroke="#111" stroke-width="0.35" transform="translate(567 960.5) rotate(-45)">Medium</text>
<text font-size="25" text-anchor="end" stroke="#111" stroke-width="0.35" transform="translate(647 960.5) rotate(-45)">IL-7</text>
<text font-size="25" text-anchor="end" stroke="#111" stroke-width="0.35" transform="translate(744 960.5) rotate(-45)">Flt3L</text>
<text font-size="25" text-anchor="end" stroke="#111" stroke-width="0.35" transform="translate(858 960.5) rotate(-45)">IL-7+Flt3L</text>
<rect x="526.8" y="654.5" width="29.9" height="17.5" fill="#2e3192"/>
<rect x="526.8" y="685.9" width="29.9" height="17.2" fill="#29a8df"/>
<text font-size="23.5" text-anchor="start" stroke="#111" stroke-width="0.35" transform="translate(563.9 670.8)">WT</text>
<text font-size="23.5" text-anchor="start" stroke="#111" stroke-width="0.35" transform="translate(563.9 705.6)">Rip2<tspan font-size="14" dy="-7.5">-/-</tspan></text>
<path d="M1127.7 608.1 H1449" fill="none" stroke="#29abe2" stroke-width="2.4"/>
<path d="M1256.22 650.21 V755.35 H1277.64 V828.98 H1449" fill="none" stroke="#17924f" stroke-width="2.4"/>
<path d="M1127.7 608.1 H1256.22 V650.21 H1449" fill="none" stroke="#3c58a6" stroke-width="2.4"/>
<circle cx="1449" cy="608.1" r="9.2" fill="#29abe2"/>
<circle cx="1256.22" cy="650.21" r="9.2" fill="#3c58a6"/>
<circle cx="1449" cy="650.21" r="9.2" fill="#3c58a6"/>
<circle cx="1256.22" cy="755.35" r="9.2" fill="#17924f"/>
<circle cx="1277.64" cy="828.98" r="9.2" fill="#17924f"/>
<circle cx="1449" cy="828.98" r="9.2" fill="#17924f"/>
<path d="M1116.6 608.1 H1127.7 V902.6" fill="none" stroke="#111" stroke-width="2.4"/>
<line x1="1116.6" y1="755.35" x2="1127.7" y2="755.35" stroke="#111" stroke-width="2.4" stroke-linecap="butt"/>
<line x1="1116.4" y1="902.6" x2="1449.8" y2="902.6" stroke="#111" stroke-width="2.4" stroke-linecap="butt"/>
<line x1="1127.7" y1="902.6" x2="1127.7" y2="913.5" stroke="#111" stroke-width="2.4" stroke-linecap="butt"/>
<line x1="1234.8" y1="902.6" x2="1234.8" y2="913.5" stroke="#111" stroke-width="2.4" stroke-linecap="butt"/>
<line x1="1341.9" y1="902.6" x2="1341.9" y2="913.5" stroke="#111" stroke-width="2.4" stroke-linecap="butt"/>
<line x1="1449" y1="902.6" x2="1449" y2="913.5" stroke="#111" stroke-width="2.4" stroke-linecap="butt"/>
<text font-size="25" text-anchor="end" stroke="#111" stroke-width="0.35" transform="translate(1108.6 620.25)">100</text>
<text font-size="25" text-anchor="end" stroke="#111" stroke-width="0.35" transform="translate(1108.6 764.9)">50</text>
<text font-size="25" text-anchor="end" stroke="#111" stroke-width="0.35" transform="translate(1108.6 913.85)">0</text>
<text font-size="25.3" text-anchor="middle" stroke="#111" stroke-width="0.35" transform="translate(1127.7 944.1)">0</text>
<text font-size="25.3" text-anchor="middle" stroke="#111" stroke-width="0.35" transform="translate(1234.8 944.1)">10</text>
<text font-size="25.3" text-anchor="middle" stroke="#111" stroke-width="0.35" transform="translate(1341.9 944.1)">20</text>
<text font-size="25.3" text-anchor="middle" stroke="#111" stroke-width="0.35" transform="translate(1449 944.1)">30</text>
<text font-size="28.6" text-anchor="start" stroke="#111" stroke-width="0.35" transform="translate(1177.85 978.2) scale(0.9777 1.0000)">Day post infection</text>
<text font-size="29" text-anchor="start" stroke="#111" stroke-width="0.35" transform="translate(1070.3 829.98) rotate(-90) scale(0.9805 1.0000)">Survival (%)</text>
<path d="M1288.6 793.3 H1302.7 V659.1" fill="none" stroke="#3a3a3a" stroke-width="1.8"/>
<path d="M1332.8 793.6 H1346.9 V617" fill="none" stroke="#3a3a3a" stroke-width="1.8"/>
<text font-size="36" text-anchor="middle" font-weight="bold" transform="translate(1298.93 727) rotate(90)">*</text>
<text font-size="36" text-anchor="middle" font-weight="bold" transform="translate(1338.93 717) rotate(90)">*</text>
<text font-size="36" text-anchor="middle" font-weight="bold" transform="translate(1338.93 733) rotate(90)">*</text>
<line x1="1502.4" y1="672.7" x2="1535.7" y2="672.7" stroke="#3c58a6" stroke-width="2.4" stroke-linecap="butt"/>
<circle cx="1518.7" cy="672.7" r="8.4" fill="#3c58a6"/>
<text font-size="24.8" text-anchor="start" stroke="#111" stroke-width="0.35" transform="translate(1548.9 680.3)">WT</text>
<line x1="1502.4" y1="708.9" x2="1535.7" y2="708.9" stroke="#29abe2" stroke-width="2.4" stroke-linecap="butt"/>
<circle cx="1518.7" cy="708.9" r="8.4" fill="#29abe2"/>
<text font-size="24.8" text-anchor="start" stroke="#111" stroke-width="0.35" transform="translate(1547.3 716.5)">Rip2<tspan font-size="12.5" dy="-6">-/-</tspan></text>
<line x1="1502.4" y1="743.9" x2="1535.7" y2="743.9" stroke="#17924f" stroke-width="2.4" stroke-linecap="butt"/>
<circle cx="1518.7" cy="743.9" r="8.4" fill="#17924f"/>
<text font-size="24.8" text-anchor="start" stroke="#111" stroke-width="0.35" transform="translate(1547.3 751.5)">NOD1<tspan font-size="12.5" dy="-6">-/-</tspan></text>
</svg>
</body></html>
